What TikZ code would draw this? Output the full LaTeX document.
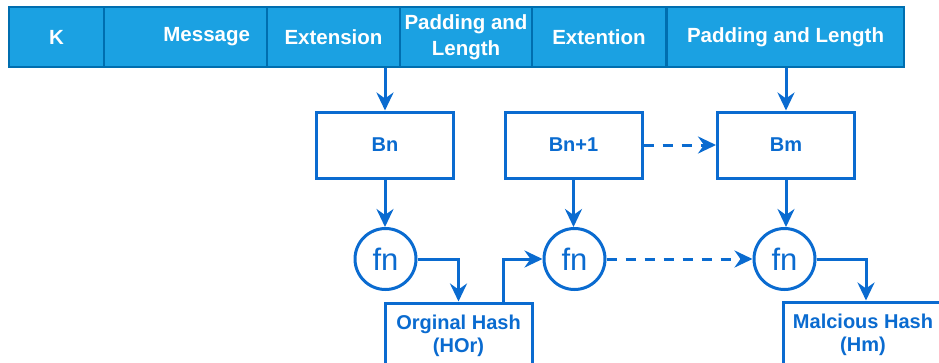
\documentclass[tikz,border=0pt]{standalone}
\usepackage{fontspec}
\setmainfont{Liberation Sans}
\usetikzlibrary{arrows.meta}
\definecolor{barfill}{HTML}{1BA1E2}
\definecolor{barline}{HTML}{006EAF}
\definecolor{lineblue}{HTML}{0A6BD0}
\tikzset{
  cell/.style={draw=barline, fill=barfill, line width=2.5pt, text=white,
    font=\fontsize{20.5}{26.5}\selectfont\bfseries, minimum height=60pt,
    inner sep=0pt, align=center},
  blockbox/.style={draw=lineblue, line width=3pt, fill=white, text=lineblue,
    font=\fontsize{20}{23}\selectfont\bfseries, minimum width=137pt,
    minimum height=66pt, inner sep=0pt, align=center},
  hashbox/.style={blockbox, minimum height=66pt},
  fnnode/.style={circle, draw=lineblue, line width=3pt, fill=white, text=lineblue,
    font=\fontsize{31}{31}\selectfont, minimum size=61pt, inner sep=0pt},
  conn/.style={draw=lineblue, line width=3pt,
    -{Stealth[length=18pt, width=17pt, inset=6pt]}},
  dconn/.style={conn, dash pattern=on 10pt off 9pt},
}
\begin{document}
\begin{tikzpicture}[x=1pt, y=-1pt]
\useasboundingbox (0,0) rectangle (939,362);
\clip (0,0) rectangle (939,362);
% top bar
\node[cell, minimum width=95pt] (k) at (56.5,37) {K};
\node[cell, text width=129pt, inner xsep=17pt, align=right] (msg) at (185.5,37) {Message};
\node[cell, minimum width=133pt] (ext) at (333.5,37) {Extension};
\node[cell, minimum width=132pt] (pl1) at (466,37) {Padding and\\Length};
\node[cell, minimum width=134pt] (ext2) at (599,37) {Extention};
\node[cell, minimum width=237pt] (pl2) at (785.5,37) {Padding and Length};
% blocks
\node[blockbox] (bn) at (385,145) {Bn};
\node[blockbox] (bn1) at (573.5,145) {Bn+1};
\node[blockbox] (bm) at (786,145) {Bm};
% fn circles
\node[fnnode] (f1) at (385.5,259) {fn};
\node[fnnode] (f2) at (574.5,259) {fn};
\node[fnnode] (f3) at (784.5,259) {fn};
% hashes
\node[hashbox, minimum width=147pt] (orig) at (458.5,336) {Orginal Hash\\(HOr)};
\node[hashbox, minimum width=160pt] (mal) at (863,335) {Malcious Hash\\(Hm)};
% connectors
\draw[conn] (bn.north |- ext.south) -- (bn.north);
\draw[conn] (bm.north |- pl2.south) -- (bm.north);
\draw[conn] (bn.south) -- (bn.south |- f1.north);
\draw[conn] (bn1.south) -- (bn1.south |- f2.north);
\draw[conn] (bm.south) -- (bm.south |- f3.north);
\draw[dconn] (bn1.east) -- (bm.west);
\draw[dconn] (f2.east) -- (f3.west);
\draw[conn] (f1.east) -| (orig.north);
\draw[conn] ([xshift=44.5pt]orig.north) |- (f2.west);
\draw[conn] (f3.east) -| ([xshift=3pt]mal.north);
\end{tikzpicture}
\end{document}
